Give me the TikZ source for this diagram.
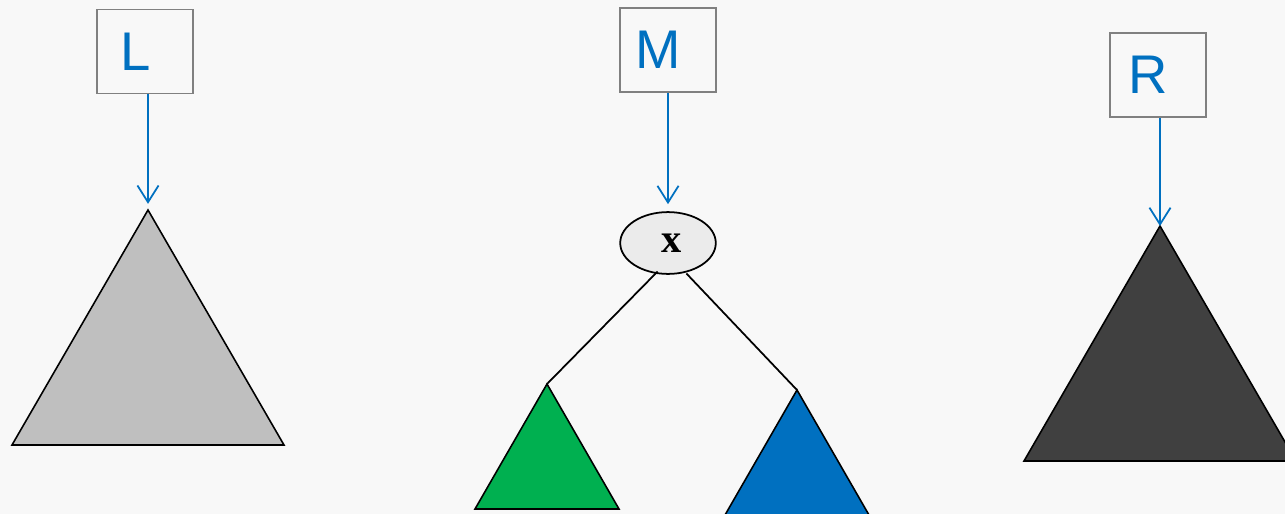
\documentclass[tikz,border=0pt]{standalone}
\usepackage{fontspec}
\setmainfont{Liberation Serif}
\newfontfamily\labelfont{Liberation Sans}
\usetikzlibrary{arrows.meta}
\usetikzlibrary{shapes.geometric}
\definecolor{pageback}{HTML}{F8F8F8}
\definecolor{mblue}{HTML}{0070C0}
\definecolor{mgreen}{HTML}{00B050}
\definecolor{lgray}{HTML}{BFBFBF}
\definecolor{dgray}{HTML}{404040}
\definecolor{boxgray}{HTML}{808080}
\definecolor{keygray}{HTML}{EBEBEB}
\tikzset{treebox/.style = {draw=boxgray, line width=0.9pt, minimum width=54.4pt,
                           minimum height=47.6pt, inner sep=0pt, text=mblue,
                           font=\labelfont\fontsize{31}{31}\selectfont,
                           execute at end node=\hspace*{11pt}}}
\tikzset{pointer/.style = {draw=mblue, line width=1pt,
                           -{Straight Barb[length=9.5pt,width=12pt,line width=1pt]}}}
\tikzset{subtree/.style = {draw=black, line width=0.9pt, line join=miter}}
\tikzset{keynode/.style = {ellipse, draw=black, line width=1pt, fill=keygray,
                           minimum width=54.4pt, minimum height=35.2pt, inner sep=0pt,
                           font=\bfseries\fontsize{23}{23}\selectfont}}

\begin{document}
\begin{tikzpicture}[x=0.02cm, y=-0.02cm]
    \fill [pageback] (0, 0) rectangle (1285, 514);
    \useasboundingbox (0, 0) rectangle (1285, 514);
    \clip (0, 0) rectangle (1285, 514);

    % the three tree pointers
    \node [treebox] (lbox) at (145, 51.5) {L};
    \node [treebox] (mbox) at (668, 50) {M};
    \node [treebox] (rbox) at (1158, 75) {R};

    % apexes of the subtrees
    \coordinate (ltop) at (148, 210);
    \coordinate (rtop) at (1160, 226);
    \coordinate (atop) at (547, 384);
    \coordinate (btop) at (797, 390);

    \fill [lgray] (ltop) -- ++(-136, 235) -- ++(272, 0) -- cycle;
    \draw [subtree] (ltop) -- ++(-136, 235) -- ++(272, 0) -- cycle;

    \fill [dgray] (rtop) -- ++(-136, 235) -- ++(272, 0) -- cycle;
    \draw [subtree] (rtop) -- ++(-136, 235) -- ++(272, 0) -- cycle;

    \fill [mgreen] (atop) -- ++(-72, 125) -- ++(144, 0) -- cycle;
    \draw [subtree] (atop) -- ++(-72, 125) -- ++(144, 0) -- cycle;

    \fill [mblue] (btop) -- ++(-72, 125) -- ++(144, 0) -- cycle;
    \draw [subtree] (btop) -- ++(-72, 125) -- ++(144, 0) -- cycle;

    % root of the middle tree
    \node [keynode] (x) at (668, 243) {\raisebox{-3pt}{\hspace*{4pt}x}};
    \path (x.south west) ++(24, 6) coordinate (xl);
    \path (x.south east) ++(-16, 8) coordinate (xr);
    \draw [line width=1pt] (xl) -- (atop);
    \draw [line width=1pt] (xr) -- (btop);

    \draw [pointer] (lbox.south -| ltop) -- ([yshift=3.5pt]ltop);
    \draw [pointer] (mbox.south) -- ([yshift=4pt]x.north);
    \draw [pointer] (rbox.south -| rtop) -- (rtop);
\end{tikzpicture}
\end{document}
